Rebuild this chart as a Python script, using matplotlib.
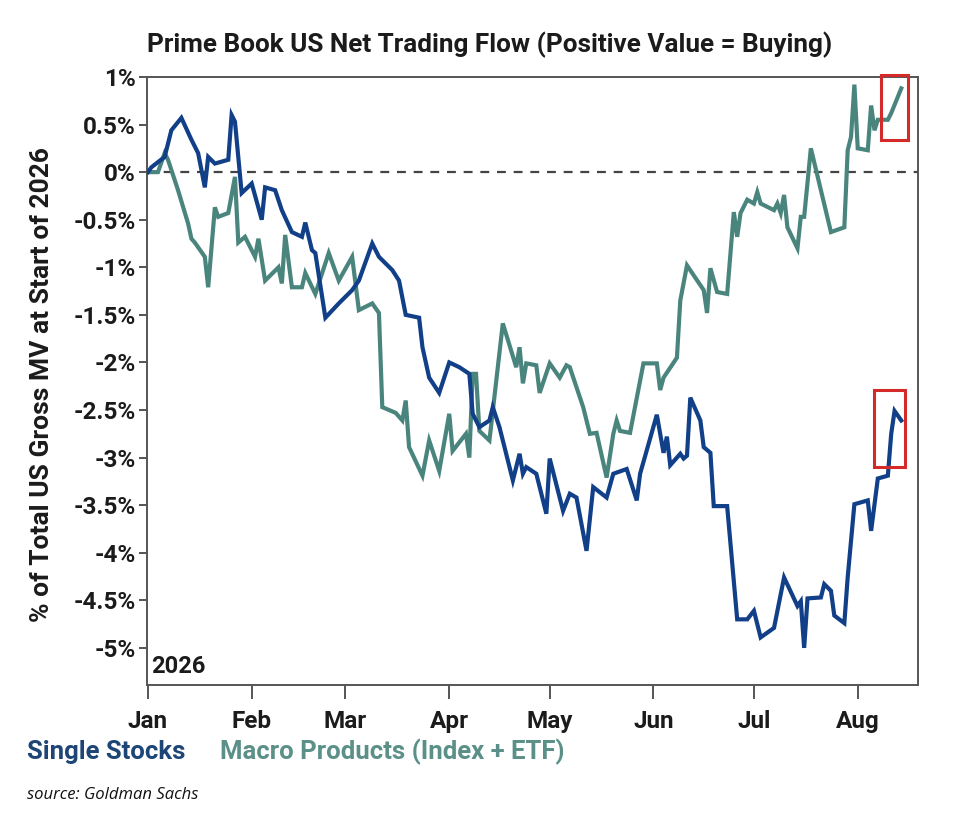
import matplotlib
matplotlib.use("Agg")
import matplotlib.pyplot as plt
import matplotlib.dates as mdates
import matplotlib.patches as mpatches
import pandas as pd

plt.rcParams['font.family'] = ['Roboto', 'DejaVu Sans']

title = "Prime Book US Net Trading Flow (Positive Value = Buying)"
ylabel = "% of Total US Gross MV at Start of 2026"
series_names = ["Single Stocks", "Macro Products (Index + ETF)"]

single_dates = [
    "2026-01-01", "2026-01-02", "2026-01-06", "2026-01-08", "2026-01-11", "2026-01-14",
    "2026-01-16", "2026-01-18", "2026-01-19", "2026-01-21", "2026-01-25", "2026-01-26",
    "2026-01-27", "2026-01-29", "2026-02-01", "2026-02-04", "2026-02-05", "2026-02-08",
    "2026-02-10", "2026-02-13", "2026-02-16", "2026-02-17", "2026-02-19", "2026-02-20",
    "2026-02-23", "2026-02-27", "2026-03-03", "2026-03-05", "2026-03-09", "2026-03-11",
    "2026-03-15", "2026-03-17", "2026-03-19", "2026-03-23", "2026-03-24", "2026-03-26",
    "2026-03-29", "2026-04-01", "2026-04-04", "2026-04-07", "2026-04-08", "2026-04-10",
    "2026-04-13", "2026-04-14", "2026-04-16", "2026-04-20", "2026-04-22", "2026-04-23",
    "2026-04-24", "2026-04-27", "2026-04-30", "2026-05-01", "2026-05-05", "2026-05-07",
    "2026-05-09", "2026-05-12", "2026-05-14", "2026-05-18", "2026-05-20", "2026-05-24",
    "2026-05-27", "2026-05-28", "2026-06-02", "2026-06-04", "2026-06-05", "2026-06-06",
    "2026-06-09", "2026-06-10", "2026-06-11", "2026-06-12", "2026-06-15", "2026-06-16",
    "2026-06-18", "2026-06-19", "2026-06-23", "2026-06-26", "2026-06-29", "2026-07-01",
    "2026-07-03", "2026-07-07", "2026-07-10", "2026-07-14", "2026-07-15", "2026-07-16",
    "2026-07-17", "2026-07-21", "2026-07-22", "2026-07-24", "2026-07-25", "2026-07-28",
    "2026-07-29", "2026-07-31", "2026-08-04", "2026-08-05", "2026-08-07", "2026-08-10",
    "2026-08-11", "2026-08-12", "2026-08-14",
]
single_values = [
    0.00, 0.05, 0.16, 0.44, 0.57, 0.34,
    0.20, -0.16, 0.16, 0.09, 0.13, 0.60,
    0.53, -0.22, -0.12, -0.50, -0.16, -0.19,
    -0.40, -0.63, -0.68, -0.53, -0.82, -0.85,
    -1.53, -1.38, -1.24, -1.14, -0.75, -0.89,
    -1.03, -1.14, -1.50, -1.53, -1.84, -2.16,
    -2.32, -2.00, -2.05, -2.12, -2.54, -2.68,
    -2.61, -2.47, -2.68, -3.24, -2.96, -3.17,
    -3.10, -3.17, -3.59, -3.01, -3.56, -3.38,
    -3.42, -3.98, -3.31, -3.42, -3.17, -3.12,
    -3.45, -3.17, -2.55, -2.95, -2.78, -3.08,
    -2.96, -3.01, -2.98, -2.37, -2.61, -2.89,
    -2.95, -3.51, -3.51, -4.70, -4.70, -4.61,
    -4.89, -4.79, -4.26, -4.56, -4.51, -5.00,
    -4.48, -4.47, -4.33, -4.40, -4.66, -4.74,
    -4.26, -3.49, -3.45, -3.77, -3.22, -3.19,
    -2.75, -2.51, -2.61,
]

macro_dates = [
    "2026-01-01", "2026-01-04", "2026-01-06", "2026-01-07", "2026-01-10", "2026-01-13",
    "2026-01-14", "2026-01-15", "2026-01-18", "2026-01-19", "2026-01-21", "2026-01-22",
    "2026-01-25", "2026-01-27", "2026-01-28", "2026-01-30", "2026-02-02", "2026-02-03",
    "2026-02-05", "2026-02-09", "2026-02-10", "2026-02-11", "2026-02-13", "2026-02-16",
    "2026-02-17", "2026-02-20", "2026-02-24", "2026-02-27", "2026-03-03", "2026-03-05",
    "2026-03-09", "2026-03-11", "2026-03-12", "2026-03-16", "2026-03-18", "2026-03-19",
    "2026-03-20", "2026-03-24", "2026-03-26", "2026-03-29", "2026-04-01", "2026-04-02",
    "2026-04-06", "2026-04-07", "2026-04-08", "2026-04-09", "2026-04-10", "2026-04-13",
    "2026-04-17", "2026-04-21", "2026-04-22", "2026-04-23", "2026-04-24", "2026-04-27",
    "2026-04-28", "2026-05-01", "2026-05-04", "2026-05-06", "2026-05-07", "2026-05-11",
    "2026-05-13", "2026-05-15", "2026-05-18", "2026-05-20", "2026-05-21", "2026-05-22",
    "2026-05-25", "2026-05-29", "2026-06-02", "2026-06-03", "2026-06-04", "2026-06-08",
    "2026-06-09", "2026-06-11", "2026-06-16", "2026-06-17", "2026-06-18", "2026-06-20",
    "2026-06-23", "2026-06-25", "2026-06-26", "2026-06-27", "2026-06-29", "2026-07-01",
    "2026-07-02", "2026-07-03", "2026-07-07", "2026-07-08", "2026-07-09", "2026-07-10",
    "2026-07-11", "2026-07-14", "2026-07-15", "2026-07-16", "2026-07-18", "2026-07-24",
    "2026-07-28", "2026-07-29", "2026-07-30", "2026-07-31", "2026-08-01", "2026-08-04",
    "2026-08-05", "2026-08-06", "2026-08-07", "2026-08-10", "2026-08-11", "2026-08-14",
]
macro_values = [
    0.00, 0.00, 0.20, 0.13, -0.19, -0.54,
    -0.70, -0.74, -0.89, -1.21, -0.37, -0.47,
    -0.43, -0.05, -0.74, -0.68, -0.89, -0.70,
    -1.14, -1.00, -1.17, -0.66, -1.21, -1.21,
    -1.06, -1.28, -0.85, -1.14, -0.89, -1.45,
    -1.38, -1.48, -2.47, -2.53, -2.61, -2.40,
    -2.89, -3.19, -2.82, -3.14, -2.54, -2.93,
    -2.75, -3.00, -2.12, -2.12, -2.72, -2.82,
    -1.59, -2.05, -1.84, -2.22, -2.01, -2.03,
    -2.32, -2.01, -2.16, -2.03, -2.05, -2.47,
    -2.75, -2.74, -3.21, -2.75, -2.61, -2.72,
    -2.74, -2.01, -2.01, -2.29, -2.16, -1.95,
    -1.35, -0.98, -1.24, -1.48, -1.01, -1.26,
    -1.28, -0.42, -0.68, -0.43, -0.29, -0.33,
    -0.21, -0.33, -0.40, -0.33, -0.43, -0.24,
    -0.58, -0.80, -0.47, -0.47, 0.25, -0.63,
    -0.58, 0.23, 0.37, 0.92, 0.25, 0.23,
    0.70, 0.44, 0.55, 0.55, 0.62, 0.88,
]

month_ticks = ["2026-01-01", "2026-02-01", "2026-03-01", "2026-04-01",
               "2026-05-01", "2026-06-01", "2026-07-01", "2026-08-01"]
month_labels = ["Jan", "Feb", "Mar", "Apr", "May", "Jun", "Jul", "Aug"]
y_ticks = [1, 0.5, 0, -0.5, -1, -1.5, -2, -2.5, -3, -3.5, -4, -4.5, -5]
y_labels = ["1%", "0.5%", "0%", "-0.5%", "-1%", "-1.5%", "-2%", "-2.5%",
            "-3%", "-3.5%", "-4%", "-4.5%", "-5%"]

# highlighted boxes: (start date, end date, low, high)
highlight_boxes = [
    ("2026-08-08", "2026-08-16", 0.34, 1.02),
    ("2026-08-06", "2026-08-15", -3.10, -2.29),
]

BLUE = "#113f88"
TEAL = "#4a857d"
TEXT = "#1b1b1b"

fig = plt.figure(figsize=(9.74, 8.18), dpi=100)
ax = fig.add_axes([0.151, 0.1626, 0.7915, 0.7433])

sd = pd.to_datetime(single_dates)
md = pd.to_datetime(macro_dates)
ax.plot(md, macro_values, color=TEAL, lw=3.0, solid_joinstyle="miter", zorder=3)
ax.plot(sd, single_values, color=BLUE, lw=3.0, solid_joinstyle="miter", zorder=4)
ax.axhline(0, color="#444444", lw=1.6, ls=(0, (4, 3.5)), zorder=2)

ax.set_xlim(pd.Timestamp("2025-12-31 18:00"), pd.Timestamp("2026-08-19"))
ax.set_ylim(-5.39, 1.0)

ax.set_xticks(pd.to_datetime(month_ticks))
ax.set_xticklabels(month_labels)
ax.set_yticks(y_ticks)
ax.set_yticklabels(y_labels)

for s in ax.spines.values():
    s.set_color("#555555")
    s.set_linewidth(1.4)
ax.tick_params(axis="x", length=10, width=1.4, color="#555555", pad=8,
               labelsize=17.5, labelcolor=TEXT)
ax.tick_params(axis="y", length=6, width=1.4, color="#555555", pad=2,
               labelsize=17.5, labelcolor=TEXT)
for lab in ax.get_xticklabels() + ax.get_yticklabels():
    lab.set_fontweight("bold")

for d0, d1, lo, hi in highlight_boxes:
    x0 = mdates.date2num(pd.Timestamp(d0))
    x1 = mdates.date2num(pd.Timestamp(d1))
    ax.add_patch(mpatches.Rectangle((x0, lo), x1 - x0, hi - lo, fill=False,
                                    edgecolor="#d42a2a", lw=2.2, clip_on=False,
                                    zorder=6))

ax.text(0.005, 0.012, "2026", transform=ax.transAxes, fontsize=17,
        fontweight="bold", color=TEXT, ha="left", va="bottom")

fig.text(0.503, 0.945, title, ha="center", va="center", fontsize=18.8,
         fontweight="bold", color=TEXT)
fig.text(0.043, 0.530, ylabel, ha="center", va="center", rotation=90,
         fontsize=19, fontweight="bold", color=TEXT)

fig.text(0.028, 0.081, series_names[0], ha="left", va="center", fontsize=18.5,
         fontweight="bold", color="#1d4677")
fig.text(0.226, 0.081, series_names[1], ha="left", va="center", fontsize=18.5,
         fontweight="bold", color="#5b9089")
fig.text(0.028, 0.028, "source: Goldman Sachs", ha="left", va="center",
         fontsize=12, style="italic", color="#111111",
         family=["Open Sans", "DejaVu Sans"])

fig.savefig("out.png", dpi=100, facecolor="white")
